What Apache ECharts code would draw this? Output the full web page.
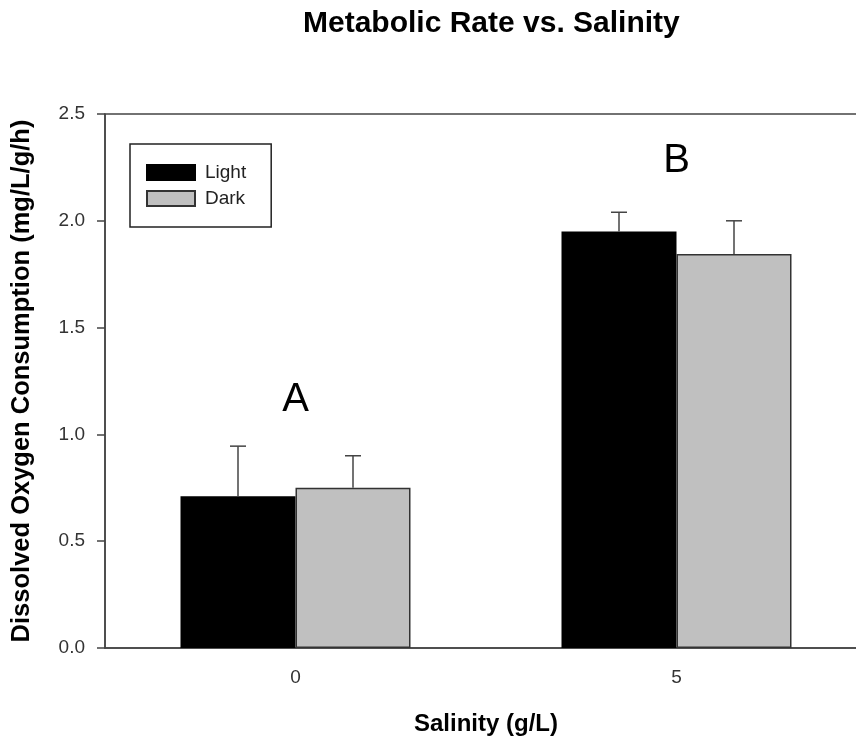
<!DOCTYPE html>
<html>
<head>
<meta charset="utf-8">
<script src="https://cdn.jsdelivr.net/npm/echarts@6/dist/echarts.min.js"></script>
<style>html,body{margin:0;padding:0;background:#fff;overflow:hidden}#c{width:856px;height:740px}</style>
</head>
<body>
<div id="c"></div>
<script>
var categories = ['0', '5'];
var lightValues = [0.71, 1.95];
var lightErrors = [0.235, 0.09];
var darkValues = [0.75, 1.845];
var darkErrors = [0.15, 0.155];
var groupLetters = ['A', 'B'];
var letterHeights = [1.16, 2.28];
var yTicks = [0, 0.5, 1.0, 1.5, 2.0, 2.5];

var FONT = '"Liberation Sans", Arial, sans-serif';
var BAR_W = 115;

function errorSeries(values, errors, dir) {
  var data = values.map(function (v, i) { return [i, v, errors[i]]; });
  return {
    type: 'custom',
    name: 'err' + dir,
    data: data,
    z: 5,
    silent: true,
    renderItem: function (params, api) {
      var cat = api.value(0), v = api.value(1), e = api.value(2);
      var base = api.coord([cat, v]);
      var top = api.coord([cat, v + e]);
      var x = base[0] + dir * BAR_W / 2;
      var st = { stroke: '#444', lineWidth: 1.5 };
      return {
        type: 'group',
        children: [
          { type: 'line', shape: { x1: x, y1: base[1], x2: x, y2: top[1] }, style: st },
          { type: 'line', shape: { x1: x - 8, y1: top[1], x2: x + 8, y2: top[1] }, style: st }
        ]
      };
    }
  };
}

var chart = echarts.init(document.getElementById('c'));
chart.setOption({
  animation: false,
  backgroundColor: '#fff',
  title: {
    text: 'Metabolic Rate vs. Salinity',
    left: 303, top: 9, padding: 0,
    textStyle: { fontFamily: FONT, fontSize: 30, fontWeight: 'bold', color: '#000' }
  },
  legend: {
    orient: 'vertical',
    left: 130, top: 144,
    padding: [19, 25, 19, 16],
    itemWidth: 48, itemHeight: 15, itemGap: 7,
    borderColor: '#222', borderWidth: 1.5,
    icon: 'rect',
    data: ['Light', 'Dark'],
    textStyle: { fontFamily: FONT, fontSize: 19, color: '#222', padding: [0, 0, 0, 5] }
  },
  grid: {
    left: 105, top: 114, height: 534, width: 762,
    outerBoundsMode: 'none',
    containLabel: false,
    show: true, borderColor: '#444', borderWidth: 1.5
  },
  xAxis: {
    type: 'category',
    data: categories,
    name: 'Salinity (g/L)',
    nameLocation: 'middle',
    nameGap: 64,
    nameTextStyle: { fontFamily: FONT, fontSize: 24, fontWeight: 'bold', color: '#000' },
    axisLine: { lineStyle: { color: '#444', width: 1.5 } },
    axisTick: { alignWithLabel: true, length: 8, lineStyle: { color: '#444', width: 1.5 } },
    axisLabel: { fontFamily: FONT, fontSize: 19, color: '#333', margin: 20 },
    splitLine: { show: false }
  },
  yAxis: {
    type: 'value',
    min: 0, max: 2.5, interval: 0.5,
    name: 'Dissolved Oxygen Consumption (mg/L/g/h)',
    nameLocation: 'middle',
    nameGap: 70,
    nameTextStyle: { fontFamily: FONT, fontSize: 25.5, fontWeight: 'bold', color: '#000' },
    axisLine: { show: true, lineStyle: { color: '#444', width: 1.5 } },
    axisTick: { show: true, length: 8, lineStyle: { color: '#444', width: 1.5 } },
    axisLabel: {
      fontFamily: FONT, fontSize: 19, color: '#333', margin: 20,
      formatter: function (v) { return v.toFixed(1); }
    },
    splitLine: { show: false }
  },
  series: [
    {
      name: 'Light', type: 'bar', data: lightValues, barWidth: BAR_W, barGap: '0%',
      itemStyle: { color: '#000', borderColor: '#000', borderWidth: 1.5 }
    },
    {
      name: 'Dark', type: 'bar', data: darkValues, barWidth: BAR_W, barGap: '0%',
      itemStyle: { color: '#c0c0c0', borderColor: '#333', borderWidth: 1.5 }
    },
    errorSeries(lightValues, lightErrors, -1),
    errorSeries(darkValues, darkErrors, 1),
    {
      type: 'custom',
      name: 'letters',
      data: groupLetters.map(function (t, i) { return [i, letterHeights[i]]; }),
      silent: true,
      renderItem: function (params, api) {
        var p = api.coord([api.value(0), api.value(1)]);
        return {
          type: 'text',
          x: p[0], y: p[1],
          style: {
            text: groupLetters[params.dataIndex],
            fill: '#000',
            font: '40px ' + FONT,
            align: 'center',
            verticalAlign: 'middle'
          }
        };
      }
    }
  ]
});
</script>
</body>
</html>
